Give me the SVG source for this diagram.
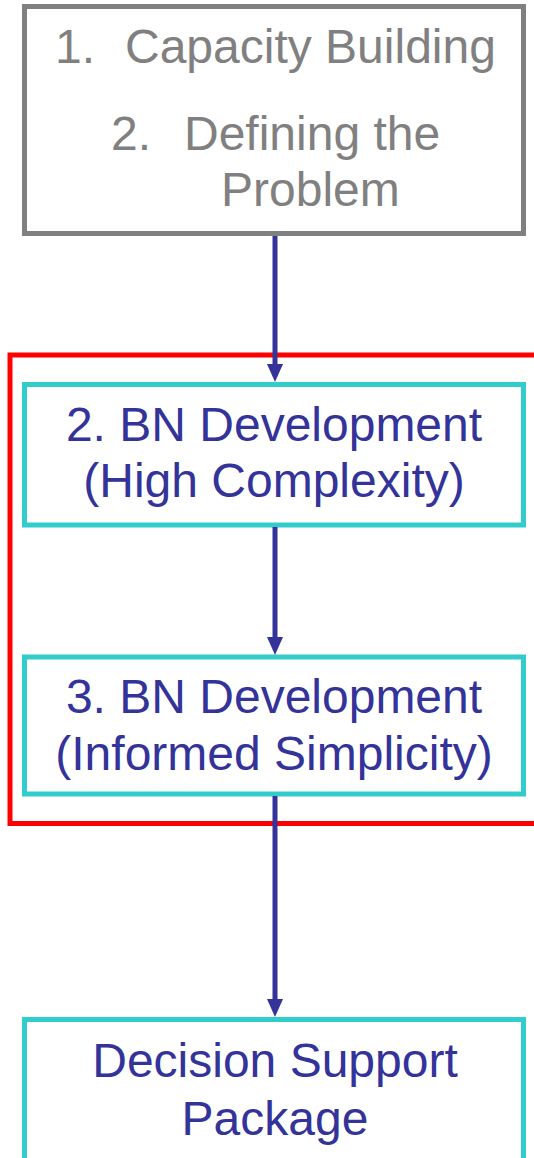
<svg xmlns="http://www.w3.org/2000/svg" width="534" height="1158" viewBox="0 0 534 1158">
<style>
.box{fill:none;stroke-width:5}
.gray{stroke:#808080}
.teal{stroke:#33CCCC}
.t{font-family:"Liberation Sans",Arial,sans-serif;font-size:48px}
.tg{fill:#808080}
.tb{fill:#333399;text-anchor:middle}
.conn{stroke:#333399;stroke-width:5;fill:none}
.head{fill:#333399}
</style>
<rect x="10" y="355" width="540" height="468.5" fill="none" stroke="#FF0000" stroke-width="5"/>
<g id="n1">
<rect class="box gray" x="24.5" y="6.5" width="499" height="227"/>
<text class="t tg" x="55" y="63">1.</text>
<text class="t tg" x="125" y="63">Capacity Building</text>
<text class="t tg" x="111" y="150">2.</text>
<text class="t tg" x="184" y="150">Defining the</text>
<text class="t tg" x="221" y="206">Problem</text>
</g>
<g id="n2">
<rect class="box teal" x="24.5" y="384.5" width="499" height="140.5"/>
<text class="t tb" x="274" y="441">2. BN Development</text>
<text class="t tb" x="274" y="497">(High Complexity)</text>
</g>
<g id="n3">
<rect class="box teal" x="24.5" y="657" width="499" height="137"/>
<text class="t tb" x="274" y="713">3. BN Development</text>
<text class="t tb" x="274" y="770">(Informed Simplicity)</text>
</g>
<g id="n4">
<rect class="box teal" x="24.5" y="1019.5" width="499" height="150"/>
<text class="t tb" x="275" y="1077">Decision Support</text>
<text class="t tb" x="275" y="1135">Package</text>
</g>
<g id="connectors">
<line class="conn" x1="275" y1="236" x2="275" y2="368"/>
<path class="head" d="M267,364 L283,364 L275,382 Z"/>
<line class="conn" x1="275" y1="527" x2="275" y2="640"/>
<path class="head" d="M267,637 L283,637 L275,655 Z"/>
<line class="conn" x1="275" y1="796" x2="275" y2="1002"/>
<path class="head" d="M267,999 L283,999 L275,1017 Z"/>
</g>
</svg>
